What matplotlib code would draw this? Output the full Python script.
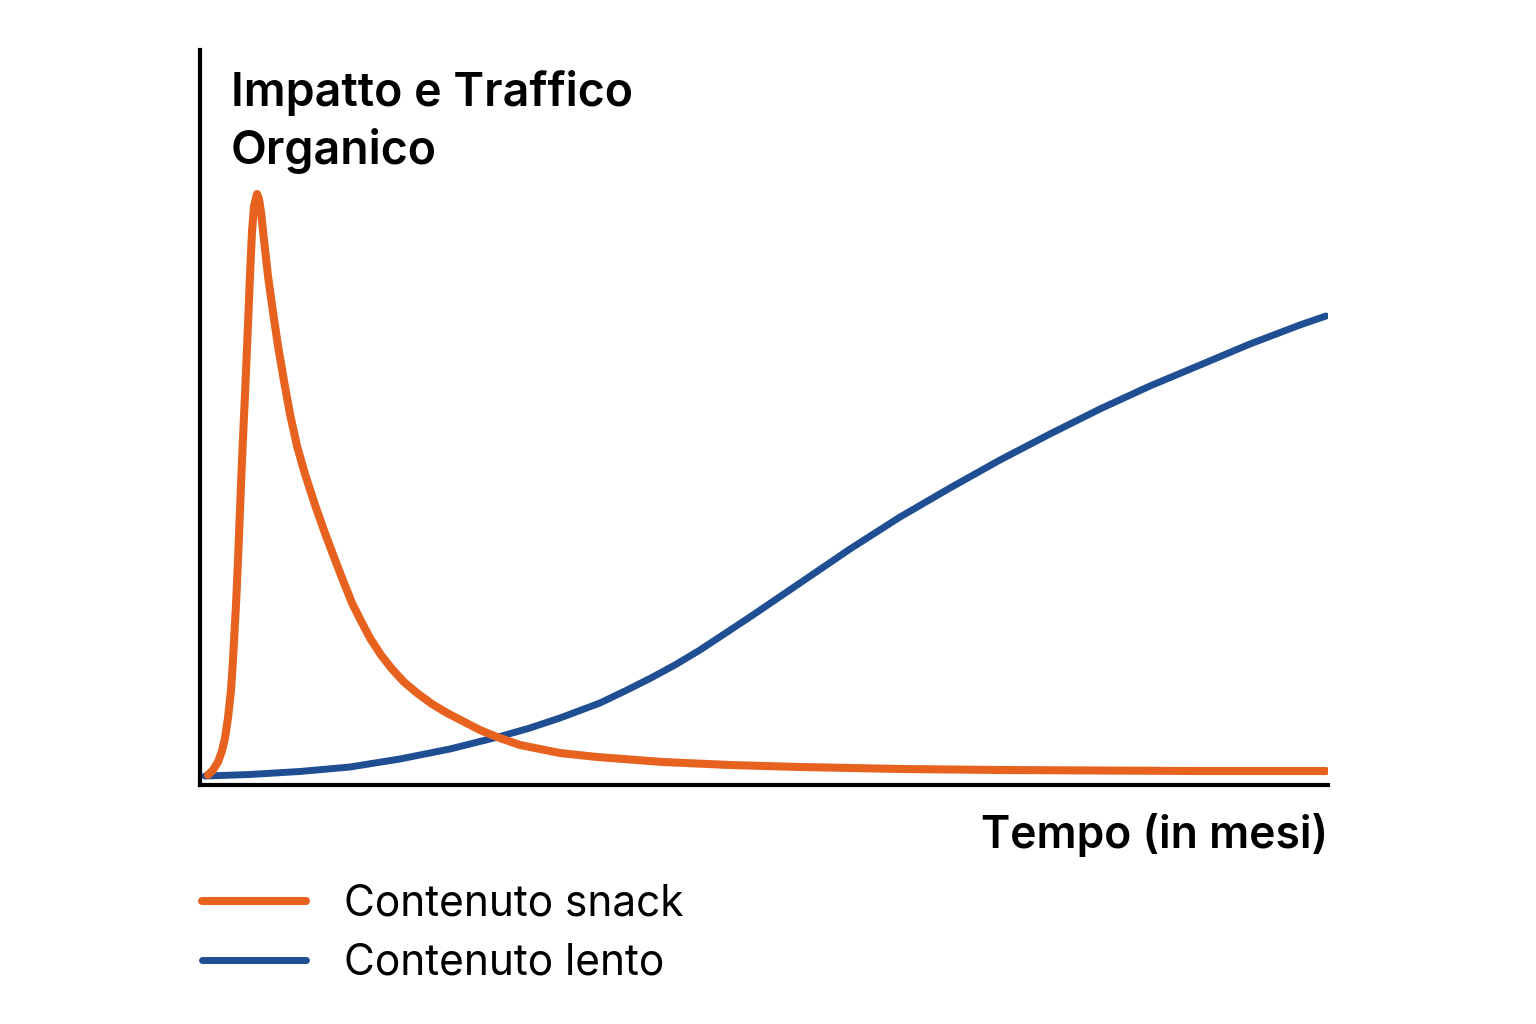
import matplotlib.pyplot as plt

# Contenuto snack: sharp early peak, then fast decay (months, relative impact)
snack_mesi = [0.170, 0.277, 0.383, 0.468, 0.532, 0.596, 0.660, 0.702, 0.766, 0.809,
              0.851, 0.894, 0.957, 1.021, 1.064, 1.106, 1.149, 1.213, 1.255, 1.298,
              1.362, 1.447, 1.553, 1.660, 1.787, 1.915, 2.064, 2.234, 2.447, 2.681,
              2.915, 3.064, 3.234, 3.426, 3.617, 3.851, 4.085, 4.340, 4.617, 4.936,
              5.255, 5.957, 6.319, 6.809, 7.660, 8.447, 9.851, 11.277, 12.766, 14.894,
              17.021, 19.149, 21.277, 23.957]
snack_valori = [1.36, 2.04, 3.13, 4.63, 6.39, 9.12, 12.93, 17.01, 24.49, 30.61,
                37.41, 44.22, 53.06, 62.59, 69.39, 75.24, 78.78, 80.41, 79.73, 77.96,
                74.15, 69.25, 64.35, 59.73, 54.97, 50.48, 46.12, 42.31, 38.10, 33.88,
                29.93, 27.48, 24.76, 22.31, 20.00, 17.69, 15.78, 14.01, 12.52, 11.02,
                9.80, 7.48, 6.53, 5.44, 4.35, 3.81, 3.13, 2.72, 2.45, 2.18,
                2.04, 1.97, 1.90, 1.90]

# Contenuto lento: slow, steady growth
lento_mesi = [0.106, 1.064, 2.128, 3.191, 4.255, 5.319, 6.383, 7.021, 7.660, 8.511,
              9.043, 9.574, 10.106, 10.638, 11.702, 12.766, 13.830, 14.894, 15.957,
              17.021, 18.085, 19.149, 20.213, 21.277, 22.340, 23.404, 23.957]
lento_valori = [1.22, 1.43, 1.84, 2.45, 3.54, 4.90, 6.60, 7.76, 9.12, 11.16,
                12.79, 14.49, 16.33, 18.37, 22.86, 27.48, 32.11, 36.46, 40.41,
                44.22, 47.76, 51.16, 54.29, 57.14, 60.00, 62.59, 63.81]

plt.rcParams['font.family'] = ['Inter', 'DejaVu Sans']

fig = plt.figure(figsize=(15.36, 10.24), dpi=100)
ax = fig.add_axes([200 / 1536, 1 - 785 / 1024, 1128 / 1536, 735 / 1024])

ax.plot(snack_mesi, snack_valori, color='#E8621F', linewidth=5.8, solid_capstyle='round',
        solid_joinstyle='round', label='Contenuto snack', zorder=3)
ax.plot(lento_mesi, lento_valori, color='#1F4E93', linewidth=5.0, solid_capstyle='round',
        solid_joinstyle='round', label='Contenuto lento', zorder=2)

ax.set_xlim(0, 24)
ax.set_ylim(0, 100)
ax.set_xticks([])
ax.set_yticks([])
for side in ['top', 'right']:
    ax.spines[side].set_visible(False)
for side in ['left', 'bottom']:
    ax.spines[side].set_linewidth(3)
    ax.spines[side].set_color('black')

fig.text(231 / 1536, 1 - 106 / 1024, "Impatto e Traffico", fontsize=33.5,
         fontweight='semibold', va='baseline', ha='left')
fig.text(231 / 1536, 1 - 164 / 1024, "Organico", fontsize=33.5,
         fontweight='semibold', va='baseline', ha='left')
fig.text(1328 / 1536, 1 - 848 / 1024, "Tempo (in mesi)", fontsize=32,
         fontweight='semibold', va='baseline', ha='right')

fig.legend(loc='upper left', bbox_to_anchor=(202 / 1536, 1 - 884 / 1024),
           frameon=False, fontsize=30.5, handlelength=2.45, handletextpad=0.9,
           labelspacing=0.42, borderpad=0, borderaxespad=0)

fig.savefig('out.png', dpi=100, facecolor='white')
